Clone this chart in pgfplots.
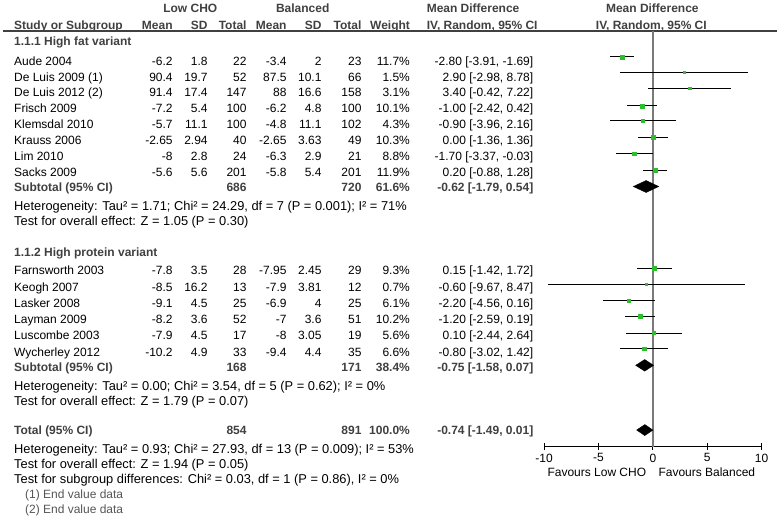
\documentclass[border=0pt]{standalone}
\usepackage{fontspec}
\setmainfont{Liberation Sans}
\usepackage{pgfplots}
\usepackage{pgfplotstable}
\pgfplotsset{compat=1.18}
\definecolor{hdr}{HTML}{404040}
\definecolor{sq}{HTML}{2DBE2D}
\definecolor{zl}{HTML}{7A7A7A}
\definecolor{note}{HTML}{555555}
\newcommand{\fs}{\fontsize{12bp}{14bp}\selectfont}
\newcommand{\fh}{\fontsize{12.85bp}{14bp}\selectfont}
% left / right / centre text at pixel (x, y-centre)
\newcommand{\TL}[3]{\node[anchor=base west,inner sep=0pt,font=\fs,yshift=-4.3bp] at (axis cs:#1,#2) {#3};}
\newcommand{\THet}[3]{\node[anchor=base west,inner sep=0pt,font=\fh,yshift=-4.4bp] at (axis cs:#1,#2) {#3};}
\newcommand{\TR}[3]{\node[anchor=base east,inner sep=0pt,font=\fs,yshift=-4.3bp] at (axis cs:#1,#2) {#3};}
\newcommand{\TC}[3]{\node[anchor=base,inner sep=0pt,font=\fs,yshift=-4.3bp] at (axis cs:#1,#2) {#3};}
\newcommand{\row}[8]{\TL{14}{#1}{#2}\TR{173}{#1}{#3}\TR{208}{#1}{#4}\TR{247}{#1}{#5}\TR{287}{#1}{#6}\TR{322}{#1}{#7}\TR{362}{#1}{#8}}
\newcommand{\wc}[3]{\TR{410.5}{#1}{#2}\TR{534}{#1}{#3}}
\newcommand{\B}[1]{\textcolor{hdr}{\bfseries #1}}

\pgfplotstableread{
y md lo hi w
57.0 -2.80 -3.91 -1.69 11.7
72.5 2.90 -2.98 8.78 1.5
88.5 3.40 -0.42 7.22 3.1
106.0 -1.00 -2.42 0.42 10.1
121.0 -0.90 -3.96 2.16 4.3
137.5 0.00 -1.36 1.36 10.3
154.0 -1.70 -3.37 -0.03 8.8
170.5 0.20 -0.88 1.28 11.9
268.3 0.15 -1.42 1.72 9.3
284.3 -0.60 -9.67 8.47 0.7
300.7 -2.20 -4.56 0.16 6.1
316.7 -1.20 -2.59 0.19 10.2
333.3 0.10 -2.44 2.64 5.6
349.3 -0.80 -3.02 1.42 6.6
}\studies

\begin{document}
\begin{tikzpicture}
\begin{axis}[scale only axis, width=778bp, height=524bp, at={(0,0)}, anchor=south west,
  xmin=0, xmax=778, ymin=0, ymax=524, y dir=reverse, hide axis, clip=false]
\draw[line width=1.6bp, color=hdr] (axis cs:3,31) -- (axis cs:778,31);
% headers
\TC{190.5}{8.3}{\B{Low CHO}}
\TC{303}{8.3}{\B{Balanced}}
\TL{427}{8.3}{\B{Mean Difference}}
\TC{653}{8.3}{\B{Mean Difference}}
\TL{14}{25}{\B{Study or Subgroup}}
\TR{173}{25}{\B{Mean}}
\TR{208}{25}{\B{SD}}
\TR{247}{25}{\B{Total}}
\TR{287}{25}{\B{Mean}}
\TR{322}{25}{\B{SD}}
\TR{362}{25}{\B{Total}}
\TR{410.5}{25}{\B{Weight}}
\TL{427}{25}{\B{IV, Random, 95\% CI}}
\TC{652}{25}{\B{IV, Random, 95\% CI}}
% group 1
\TL{14}{41.7}{\B{1.1.1 High fat variant}}
\row{61}{Aude 2004}{-6.2}{1.8}{22}{-3.4}{2}{23}\wc{61}{11.7\%}{-2.80 [-3.91, -1.69]}
\row{77}{De Luis 2009 (1)}{90.4}{19.7}{52}{87.5}{10.1}{66}\wc{77}{1.5\%}{2.90 [-2.98, 8.78]}
\row{92.7}{De Luis 2012 (2)}{91.4}{17.4}{147}{88}{16.6}{158}\wc{92.7}{3.1\%}{3.40 [-0.42, 7.22]}
\row{108.5}{Frisch 2009}{-7.2}{5.4}{100}{-6.2}{4.8}{100}\wc{108.5}{10.1\%}{-1.00 [-2.42, 0.42]}
\row{124.5}{Klemsdal 2010}{-5.7}{11.1}{100}{-4.8}{11.1}{102}\wc{124.5}{4.3\%}{-0.90 [-3.96, 2.16]}
\row{140.3}{Krauss 2006}{-2.65}{2.94}{40}{-2.65}{3.63}{49}\wc{140.3}{10.3\%}{0.00 [-1.36, 1.36]}
\row{156.2}{Lim 2010}{-8}{2.8}{24}{-6.3}{2.9}{21}\wc{156.2}{8.8\%}{-1.70 [-3.37, -0.03]}
\row{172.7}{Sacks 2009}{-5.6}{5.6}{201}{-5.8}{5.4}{201}\wc{172.7}{11.9\%}{0.20 [-0.88, 1.28]}
\TL{14}{187.3}{\B{Subtotal (95\% CI)}}\TR{247}{187.3}{\B{686}}\TR{362}{187.3}{\B{720}}
\wc{187.3}{\B{61.6\%}}{\B{-0.62 [-1.79, 0.54]}}
\THet{14}{206.7}{Heterogeneity: Tau² = 1.71; Chi² = 24.29, df = 7 (P = 0.001); I² = 71\%}
\THet{14}{221.7}{Test for overall effect: Z = 1.05 (P = 0.30)}
% group 2
\TL{14}{252.7}{\B{1.1.2 High protein variant}}
\row{270}{Farnsworth 2003}{-7.8}{3.5}{28}{-7.95}{2.45}{29}\wc{270}{9.3\%}{0.15 [-1.42, 1.72]}
\row{287}{Keogh 2007}{-8.5}{16.2}{13}{-7.9}{3.81}{12}\wc{287}{0.7\%}{-0.60 [-9.67, 8.47]}
\row{304}{Lasker 2008}{-9.1}{4.5}{25}{-6.9}{4}{25}\wc{304}{6.1\%}{-2.20 [-4.56, 0.16]}
\row{320}{Layman 2009}{-8.2}{3.6}{52}{-7}{3.6}{51}\wc{320}{10.2\%}{-1.20 [-2.59, 0.19]}
\row{336}{Luscombe 2003}{-7.9}{4.5}{17}{-8}{3.05}{19}\wc{336}{5.6\%}{0.10 [-2.44, 2.64]}
\row{353}{Wycherley 2012}{-10.2}{4.9}{33}{-9.4}{4.4}{35}\wc{353}{6.6\%}{-0.80 [-3.02, 1.42]}
\TL{14}{367.3}{\B{Subtotal (95\% CI)}}\TR{247}{367.3}{\B{168}}\TR{362}{367.3}{\B{171}}
\wc{367.3}{\B{38.4\%}}{\B{-0.75 [-1.58, 0.07]}}
\THet{14}{386.7}{Heterogeneity: Tau² = 0.00; Chi² = 3.54, df = 5 (P = 0.62); I² = 0\%}
\THet{14}{401.7}{Test for overall effect: Z = 1.79 (P = 0.07)}
% total
\TL{14}{430.7}{\B{Total (95\% CI)}}\TR{247}{430.7}{\B{854}}\TR{362}{430.7}{\B{891}}
\wc{430.7}{\B{100.0\%}}{\B{-0.74 [-1.49, 0.01]}}
\THet{14}{450}{Heterogeneity: Tau² = 0.93; Chi² = 27.93, df = 13 (P = 0.009); I² = 53\%}
\THet{14}{465}{Test for overall effect: Z = 1.94 (P = 0.05)}
\THet{14}{480}{Test for subgroup differences: Chi² = 0.03, df = 1 (P = 0.86), I² = 0\%}
\TL{25}{495}{\textcolor{note}{(1) End value data}}
\TL{25}{510}{\textcolor{note}{(2) End value data}}
% favours
\TR{647}{472.7}{Favours Low CHO}
\TL{659}{472.7}{Favours Balanced}
\end{axis}

\begin{axis}[scale only axis, width=217.6bp, height=416bp, at={(544.7bp,77bp)}, anchor=south west,
  xmin=-10, xmax=10, ymin=31, ymax=447, y dir=reverse,
  axis x line=bottom, axis y line=none,
  axis line style={-, black, line width=1.1bp},
  xtick={-10,-5,0,5,10}, xticklabels={-10,-5,0,5,10},
  tick align=center, major tick length=7bp, tick style={black, line width=1.1bp},
  xticklabel style={font=\fs, inner sep=3.5bp},
  clip=false]
\addplot[zl, line width=1.5bp, forget plot] coordinates {(0,31) (0,447)};
\addplot[draw=none, mark=none, forget plot,
  error bars/.cd, x dir=both, x explicit, error mark=none,
  error bar style={draw=black, solid, line width=0.9bp}]
  table[x=md, y=y, x error plus expr=\thisrow{hi}-\thisrow{md}, x error minus expr=\thisrow{md}-\thisrow{lo}] \studies;
\addplot[only marks, mark=square*, color=sq, forget plot,
  visualization depends on={0.45+0.46*sqrt(\thisrow{w}) \as \msz},
  scatter, scatter/use mapped color={draw=sq, fill=sq},
  scatter/@pre marker code/.append style={/tikz/mark size=\msz}]
  table[x=md, y=y] \studies;
\addplot[fill=black, draw=black, forget plot] coordinates {(-1.79,186.7) (-0.62,180.7) (0.54,186.7) (-0.62,192.7)} -- cycle;
\addplot[fill=black, draw=black, forget plot] coordinates {(-1.58,365.7) (-0.75,359.9) (0.07,365.7) (-0.75,371.5)} -- cycle;
\addplot[fill=black, draw=black, forget plot] coordinates {(-1.49,430.5) (-0.74,425) (0.01,430.5) (-0.74,436)} -- cycle;
\end{axis}
\useasboundingbox (0,0) rectangle (778bp,524bp);
\end{tikzpicture}
\end{document}
